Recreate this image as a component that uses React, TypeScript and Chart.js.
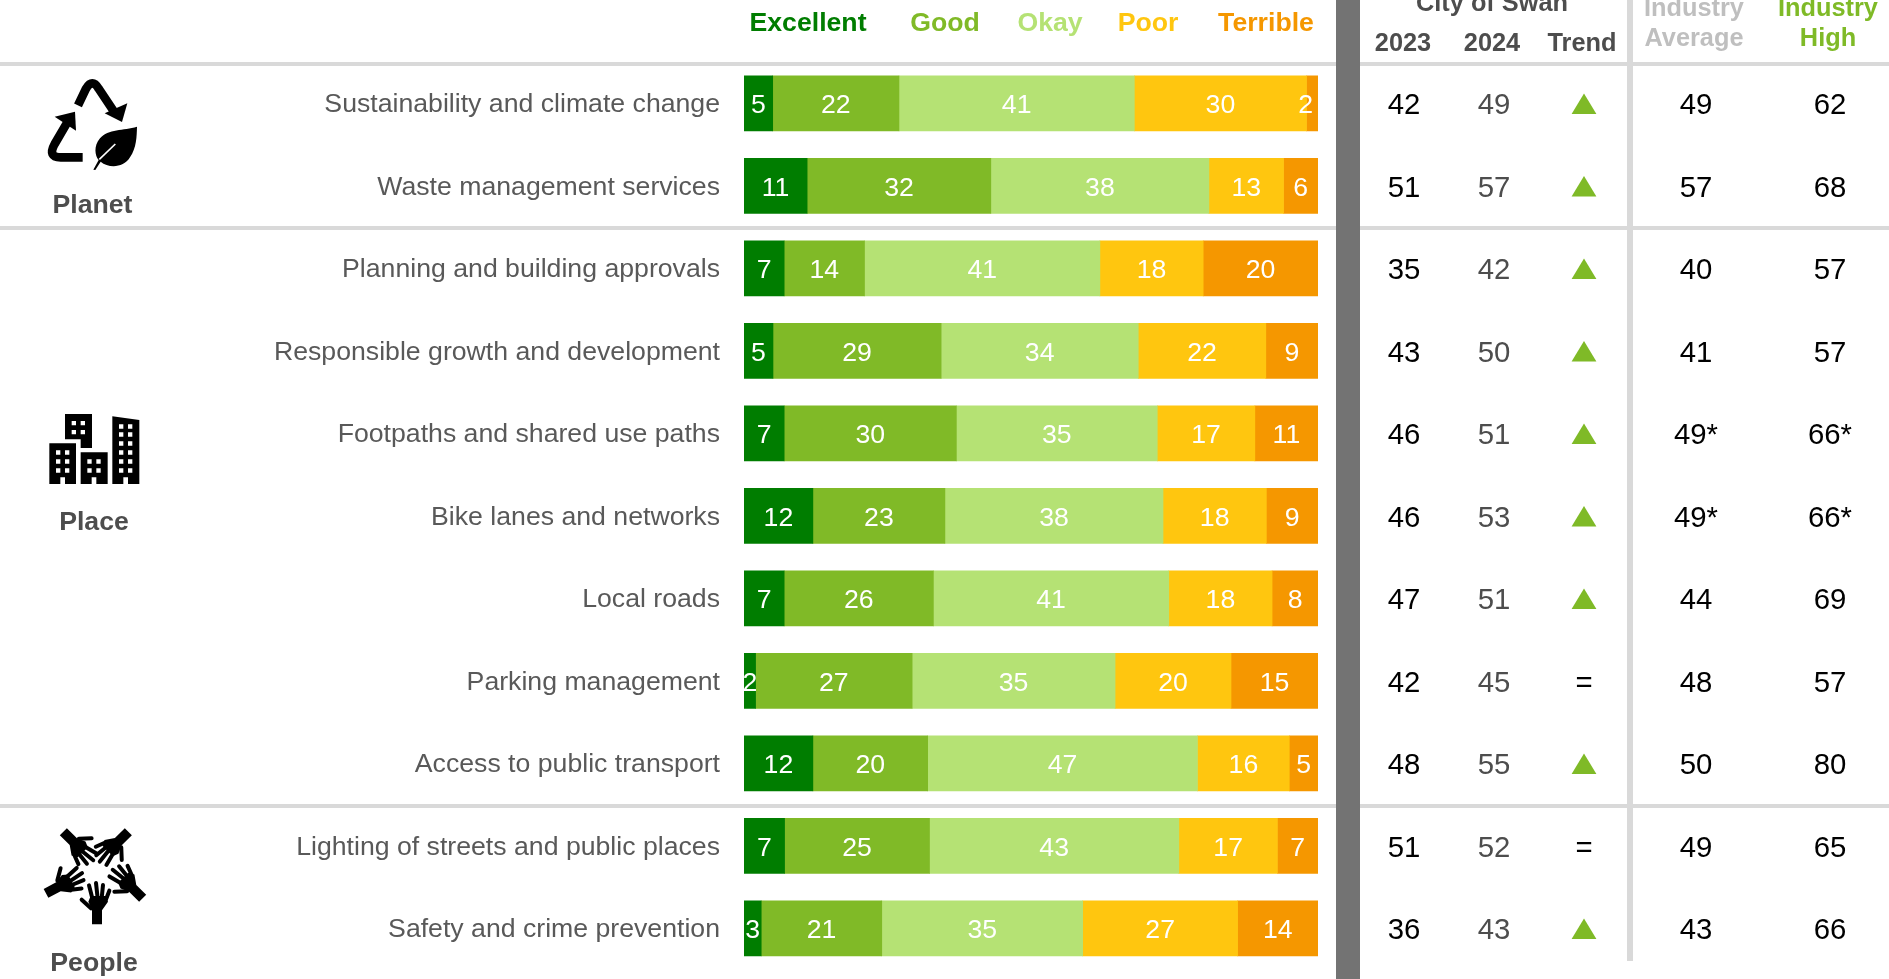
import React, { useEffect, useRef } from "react";
import { Chart, registerables } from "chart.js";

Chart.register(...registerables);

const measures = [
  "Sustainability and climate change",
  "Waste management services",
  "Planning and building approvals",
  "Responsible growth and development",
  "Footpaths and shared use paths",
  "Bike lanes and networks",
  "Local roads",
  "Parking management",
  "Access to public transport",
  "Lighting of streets and public places",
  "Safety and crime prevention",
];

const excellent = [5, 11, 7, 5, 7, 12, 7, 2, 12, 7, 3];
const good = [22, 32, 14, 29, 30, 23, 26, 27, 20, 25, 21];
const okay = [41, 38, 41, 34, 35, 38, 41, 35, 47, 43, 35];
const poor = [30, 13, 18, 22, 17, 18, 18, 20, 16, 17, 27];
const terrible = [2, 6, 20, 9, 11, 9, 8, 15, 5, 7, 14];

const score2023 = ["42", "51", "35", "43", "46", "46", "47", "42", "48", "51", "36"];
const score2024 = ["49", "57", "42", "50", "51", "53", "51", "45", "55", "52", "43"];
const trend = ["up", "up", "up", "up", "up", "up", "up", "same", "up", "same", "up"];
const industryAverage = ["49", "57", "40", "41", "49*", "49*", "44", "48", "50", "49", "43"];
const industryHigh = ["62", "68", "57", "57", "66*", "66*", "69", "57", "80", "65", "66"];

const ratingNames = ["Excellent", "Good", "Okay", "Poor", "Terrible"];
const ratingColors = ["#007D00", "#80BA27", "#B5E274", "#FFC60F", "#F59700"];
const ratingSeries = [excellent, good, okay, poor, terrible];

const FONT = '"Liberation Sans", Arial, sans-serif';
const W = 1889;
const H = 979;
const RULE = "#D9D9D9";
const INK = "#000000";
const MUTED = "#4D4D4D";

// Every row is a 100% bar: a segment's length is its rating over the row's total.
const rowTotals = measures.map((_, i) => ratingSeries.reduce((sum, s) => sum + s[i], 0));
const shareSeries = ratingSeries.map((s) => s.map((v, i) => (v / rowTotals[i]) * 100));

function text(
  ctx: CanvasRenderingContext2D,
  value: string,
  x: number,
  y: number,
  font: string,
  color: string,
  align: CanvasTextAlign = "center"
) {
  ctx.font = font;
  ctx.fillStyle = color;
  ctx.textAlign = align;
  ctx.textBaseline = "alphabetic";
  ctx.fillText(value, x, y);
}

function drawRecycleIcon(ctx: CanvasRenderingContext2D) {
  ctx.save();
  ctx.translate(40, 70);
  ctx.scale(1 / 3, 1 / 3);
  ctx.fillStyle = "#000";
  ctx.strokeStyle = "#000";
  ctx.lineWidth = 26;
  ctx.lineJoin = "round";
  ctx.lineCap = "butt";

  ctx.stroke(new Path2D("M114 106 L138 56 Q157 24 176 56 L224 128"));
  ctx.fill(new Path2D("M262 100 L246 156 L194 130 Z"));

  ctx.stroke(new Path2D("M128 262 L62 262 Q22 262 44 222 L85 152"));
  ctx.fill(new Path2D("M44 140 L105 125 L108 182 Z"));

  ctx.fill(new Path2D("M291 170 C250 182 205 176 180 205 C160 228 165 258 176 270 L160 299 L166 300 L182 275 C205 295 250 295 270 262 C290 232 290 200 291 170 Z"));
  ctx.strokeStyle = "#fff";
  ctx.lineWidth = 5;
  ctx.beginPath();
  ctx.moveTo(178, 268);
  ctx.lineTo(226, 222);
  ctx.stroke();
  ctx.restore();
}

function drawBuildingsIcon(ctx: CanvasRenderingContext2D) {
  const block = (outline: string, cols: number[], rows: number[]) => {
    let d = outline;
    for (const cx of cols) {
      for (const cy of rows) {
        d += ` M${cx} ${cy} h13 v13 h-13 Z`;
      }
    }
    ctx.fill(new Path2D(d), "evenodd");
  };
  ctx.save();
  ctx.translate(0, 380);
  ctx.scale(1 / 3, 1 / 3);
  ctx.fillStyle = "#000";
  block("M195 102 L276 102 L276 204 L242 204 L242 178 L195 178 Z", [215, 242], [123, 150]);
  block("M148 190 L228 190 L228 312 L195 312 L195 292 L181 292 L181 312 L148 312 Z", [168, 195], [211, 238, 265]);
  block("M242 217 L323 217 L323 312 L289 312 L289 292 L275 292 L275 312 L242 312 Z", [262, 289], [238, 265]);
  block("M337 109 L418 120 L418 312 L384 312 L384 292 L370 292 L370 312 L337 312 Z", [357, 384], [133, 157, 184, 211, 238, 265]);
  ctx.restore();
}

function drawHand(ctx: CanvasRenderingContext2D, wristX: number, wristY: number, degrees: number) {
  ctx.save();
  ctx.translate(wristX, wristY);
  ctx.rotate((degrees * Math.PI) / 180);
  ctx.fill(new Path2D("M-15 0 L15 0 L15 -42 L33 -68 L24 -85 L-19 -85 L-26 -68 L-15 -44 Z"));
  ctx.lineCap = "round";
  ctx.lineWidth = 12;
  ctx.stroke(new Path2D("M-18 -48 L-46 -74"));
  ctx.stroke(new Path2D("M-14 -78 L-24 -117"));
  ctx.stroke(new Path2D("M2 -78 L-3 -124"));
  ctx.stroke(new Path2D("M14 -78 L18 -118"));
  ctx.stroke(new Path2D("M26 -72 L37 -101"));
  ctx.restore();
}

function drawHandsIcon(ctx: CanvasRenderingContext2D) {
  ctx.save();
  ctx.translate(30, 815);
  ctx.scale(1 / 3, 1 / 3);
  ctx.fillStyle = "#000";
  ctx.strokeStyle = "#000";
  drawHand(ctx, 201, 328, 0);
  drawHand(ctx, 100, 50, 135);
  drawHand(ctx, 295, 50, 225);
  drawHand(ctx, 48, 235, 62);
  drawHand(ctx, 338, 250, 315);
  ctx.restore();
}

const backdrop = {
  id: "backdrop",
  beforeDatasetsDraw(chart: Chart) {
    const ctx = chart.ctx;
    ctx.save();
    ctx.fillStyle = RULE;
    for (const y of [62, 226, 804]) ctx.fillRect(0, y, W, 4);
    ctx.fillRect(1627, 0, 6, 961);
    ctx.fillStyle = "#737373";
    ctx.fillRect(1336, 0, 24, H);
    ctx.restore();
  },
};

// White figures inside each segment; a label at the far right stays clear of the bar's end.
const segmentLabels = {
  id: "segmentLabels",
  afterDatasetsDraw(chart: Chart) {
    const ctx = chart.ctx;
    const right = chart.chartArea.right;
    ctx.save();
    ctx.font = `26.67px ${FONT}`;
    ctx.fillStyle = "#fff";
    ctx.textAlign = "center";
    ctx.textBaseline = "alphabetic";
    ratingSeries.forEach((series, d) => {
      chart.getDatasetMeta(d).data.forEach((bar: any, i: number) => {
        const label = String(series[i]);
        const half = ctx.measureText(label).width / 2;
        const x = Math.min(bar.getCenterPoint().x, right - half - 5);
        ctx.fillText(label, x, bar.y + 10);
      });
    });
    ctx.restore();
  },
};

const scorePanel = {
  id: "scorePanel",
  afterDraw(chart: Chart) {
    const ctx = chart.ctx;
    const y = chart.scales.y;
    const bold = `bold 26.67px ${FONT}`;
    const heading = `bold 25.33px ${FONT}`;
    const body = `29.33px ${FONT}`;
    ctx.save();

    // Rating names above the bars
    const nameX = [808, 945, 1050, 1148, 1266];
    ratingNames.forEach((name, i) => text(ctx, name, nameX[i], 31, bold, ratingColors[i]));

    // Column headings
    text(ctx, "City of Swan", 1492, 11, heading, MUTED);
    text(ctx, "2023", 1403, 51, heading, MUTED);
    text(ctx, "2024", 1492, 51, heading, MUTED);
    text(ctx, "Trend", 1582, 51, heading, MUTED);
    text(ctx, "Industry", 1694, 16, heading, "#BFBFBF");
    text(ctx, "Average", 1694, 46, heading, "#BFBFBF");
    text(ctx, "Industry", 1828, 16, heading, "#7FBA27");
    text(ctx, "High", 1828, 46, heading, "#7FBA27");

    // Theme names
    text(ctx, "Planet", 92.5, 213, bold, MUTED);
    text(ctx, "Place", 94, 530, bold, MUTED);
    text(ctx, "People", 94, 971, bold, MUTED);

    // One row of scores per measure
    measures.forEach((_, i) => {
      const cy = y.getPixelForValue(i);
      const base = cy + 11;
      text(ctx, score2023[i], 1404, base, body, INK);
      text(ctx, score2024[i], 1494, base, body, MUTED);
      if (trend[i] === "up") {
        ctx.fillStyle = "#7FBA27";
        ctx.beginPath();
        ctx.moveTo(1584, cy - 10);
        ctx.lineTo(1596.4, cy + 10.7);
        ctx.lineTo(1571.6, cy + 10.7);
        ctx.closePath();
        ctx.fill();
      } else {
        text(ctx, "=", 1584, base, body, INK);
      }
      text(ctx, industryAverage[i], 1696, base, body, INK);
      text(ctx, industryHigh[i], 1830, base, body, INK);
    });

    drawRecycleIcon(ctx);
    drawBuildingsIcon(ctx);
    drawHandsIcon(ctx);
    ctx.restore();
  },
};

export default function App() {
  const canvasRef = useRef<HTMLCanvasElement | null>(null);

  useEffect(() => {
    if (!canvasRef.current) return;
    const chart = new Chart(canvasRef.current, {
      type: "bar",
      data: {
        labels: measures,
        datasets: ratingNames.map((name, i) => ({
          label: name,
          data: shareSeries[i],
          backgroundColor: ratingColors[i],
          borderWidth: 0,
          barThickness: 55,
        })),
      },
      options: {
        indexAxis: "y",
        responsive: false,
        animation: false,
        devicePixelRatio: 1,
        layout: { padding: { top: 62.15, bottom: 9.35, left: 0, right: W - 1318 } },
        plugins: { legend: { display: false }, tooltip: { enabled: false }, title: { display: false } },
        scales: {
          x: { stacked: true, display: false, min: 0, max: 100 },
          y: {
            stacked: true,
            grid: { display: false, drawTicks: false },
            border: { display: false },
            // The label gutter is fixed so the bars start at the same place however long the labels are.
            afterFit(scale: any) {
              scale.width = 744;
              scale.paddingTop = 0;
              scale.paddingBottom = 0;
            },
            ticks: {
              autoSkip: false,
              padding: 24,
              labelOffset: 1.5,
              color: "#595959",
              font: { family: FONT, size: 26.67 },
            },
          },
        },
      },
      plugins: [backdrop, segmentLabels, scorePanel],
    } as any);
    return () => chart.destroy();
  }, []);

  return (
    <canvas
      ref={canvasRef}
      width={W}
      height={H}
      style={{ position: "fixed", left: 0, top: 0, width: W, height: H, display: "block", background: "#fff" }}
    />
  );
}
